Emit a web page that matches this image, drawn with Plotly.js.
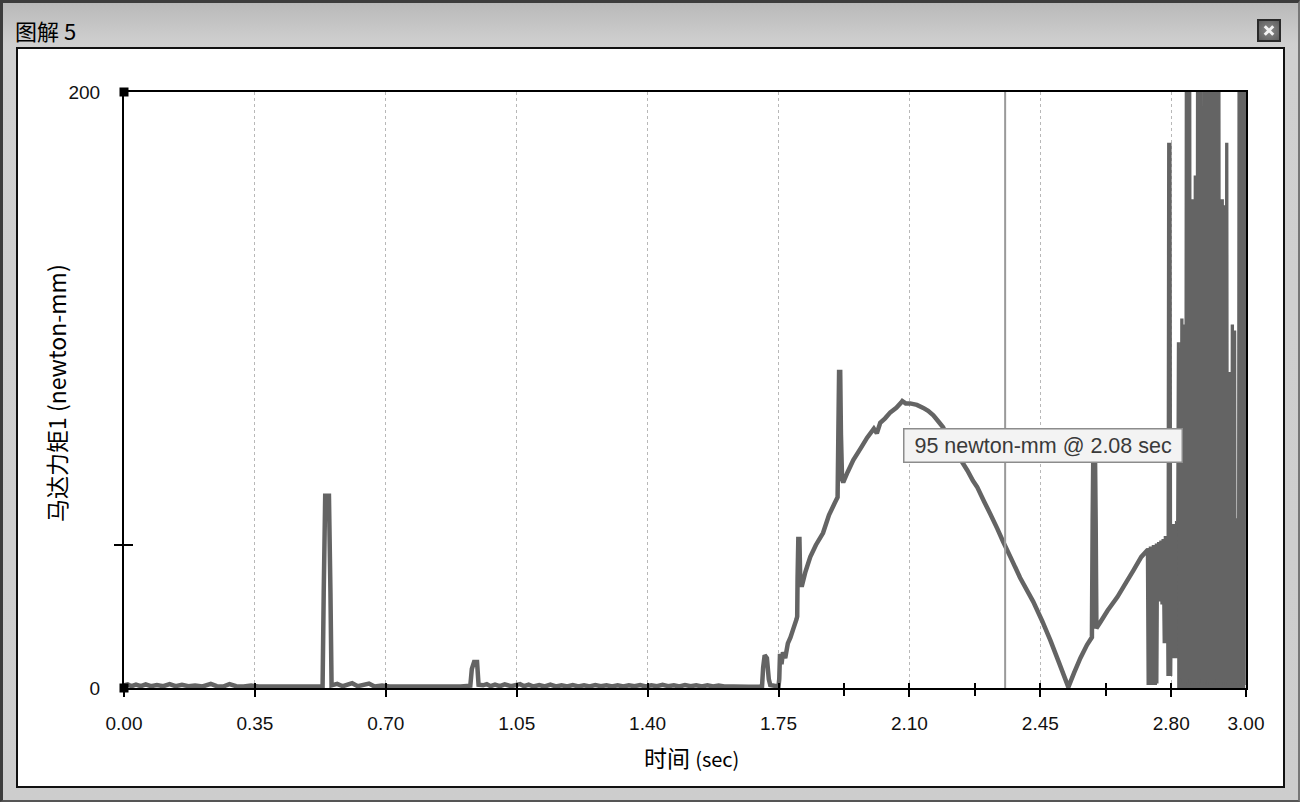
<!DOCTYPE html>
<html>
<head>
<meta charset="utf-8">
<script src="https://cdn.plot.ly/plotly-3.0.1.min.js"></script>
<style>
  html, body { margin:0; padding:0; }
  body { width:1300px; height:802px; position:relative; overflow:hidden; background:#cdcdcd; font-family:"Noto Sans CJK SC","Liberation Sans",sans-serif; }
  #win { position:absolute; left:0; top:0; width:1300px; height:802px; box-sizing:border-box;
         border-top:3px solid #3c3c3c; border-left:3px solid #3c3c3c; border-right:2px solid #777; border-bottom:2px solid #555;
         background:linear-gradient(to bottom,#b9b9b9 0px,#cfcfcf 40px,#d0d0d0 48px,#cdcdcd 100%); }
  #ttl { position:absolute; left:15px; top:16px; font-size:22px; line-height:28px; color:#000; font-family:"Noto Sans CJK SC",sans-serif; }
  #close { position:absolute; left:1257px; top:19px; width:24px; height:23px; box-sizing:border-box; border:2px solid #2a2a2a;
           background:radial-gradient(#8a8a8a,#5e5e5e); }
  #close:before, #close:after { content:""; position:absolute; left:4px; top:8px; width:12px; height:3px; background:#f4f4f4; }
  #close:before { transform:rotate(45deg); }
  #close:after { transform:rotate(-45deg); }
  #panel { position:absolute; left:16px; top:47px; width:1269px; height:741px; box-sizing:border-box; border:2px solid #111; background:#fff; }
  #chart { position:absolute; left:0; top:0; width:1300px; height:802px; }
</style>
</head>
<body>
<div id="win"></div>
<div id="ttl">图解 5</div>
<div id="close"></div>
<div id="panel"></div>
<div id="chart"></div>
<script>
// ---- data ----
const timeMain = [
  0.000,0.010,0.020,0.032,0.045,0.058,0.072,0.088,0.105,0.122,0.138,0.155,0.172,0.190,0.210,0.232,0.248,0.265,0.282,0.300,
  0.320,0.340,0.360,0.390,0.420,0.450,0.480,0.510,0.531,0.534,0.538,0.548,0.552,0.555,0.570,0.585,0.610,0.625,0.655,0.670,
  0.690,0.710,0.740,0.780,0.820,0.860,0.900,0.926,0.930,0.936,0.944,0.948,0.960,0.970,0.980,0.992,1.005,1.018,1.035,1.059,
  1.070,1.082,1.095,1.110,1.125,1.140,1.155,1.170,1.185,1.200,1.215,1.230,1.245,1.260,1.275,1.290,1.305,1.320,1.335,1.350,
  1.365,1.380,1.395,1.410,1.425,1.440,1.455,1.470,1.485,1.500,1.515,1.530,1.545,1.560,1.575,1.590,1.605,1.630,1.670,1.700,
  1.706,1.709,1.713,1.719,1.724,1.728,1.745,1.750,1.752,1.754,1.758,1.762,1.768,1.775,1.782,1.790,1.798,1.800,1.801,1.803,
  1.806,1.808,1.812,1.822,1.835,1.850,1.869,1.885,1.900,1.908,1.910,1.912,1.915,1.917,1.920,1.923,1.935,1.950,1.970,1.987,
  2.005,2.013,2.022,2.035,2.049,2.065,2.078,2.081,2.090,2.102,2.120,2.137,2.150,2.164,2.177,2.190,2.205,2.222,2.240,2.255,
  2.270,2.281,2.300,2.316,2.335,2.351,2.370,2.396,2.431,2.455,2.477,2.500,2.525,2.540,2.557,2.575,2.588,2.590,2.592,2.596,
  2.598,2.600,2.610,2.630,2.656,2.680,2.699,2.720,2.738,2.740,2.742,2.744,2.746,2.748,2.750,2.752,2.754,2.756,2.758,2.760,
  2.762,2.765,2.768,2.771,2.774,2.777,2.780,2.783,2.786,2.789,2.791,2.793,2.795,2.797,2.800,2.802,2.804,2.806,2.808,2.810,
  2.812,2.814,2.816
];
const torqueMain = [
  0.9,1.2,0.6,1.1,0.6,1.2,0.6,1.0,0.6,1.3,0.6,1.1,0.6,0.8,0.5,1.4,0.6,0.5,1.3,0.6,
  0.5,0.8,0.5,0.5,0.5,0.5,0.5,0.5,0.5,32,64.5,64.5,32,0.9,1.4,0.6,1.6,0.6,1.5,0.5,
  0.8,0.5,0.5,0.5,0.5,0.5,0.5,0.8,6.4,8.7,8.7,1.1,0.9,1.3,0.6,1.1,0.6,1.2,0.6,1.3,
  0.6,1.1,0.5,1.0,0.5,1.1,0.5,0.9,0.5,1.0,0.5,0.9,0.5,1.0,0.6,0.9,0.5,0.9,0.5,0.9,
  0.6,1.0,0.5,0.9,0.6,1.1,0.6,0.9,0.5,1.0,0.6,0.9,0.5,0.9,0.5,0.8,0.5,0.5,0.4,0.5,
  0.6,7.0,11.0,10.0,3.0,1.0,0.6,0.5,3.0,11.5,8.0,12.0,10.0,15.0,17.0,20.0,23.0,24.0,37.0,50.0,
  50.0,37.0,34.0,39.0,44.0,48.0,52.0,58.0,62.0,64.0,85.0,106.0,106.0,85.0,70.0,69.0,72.5,76.5,80.5,84.0,
  87.0,85.5,89.0,90.5,92.5,94.0,95.8,96.3,95.5,95.5,95.0,94.0,93.0,91.5,89.5,87.5,83.5,79.5,76.0,73.0,
  69.5,67.5,62.5,58.5,53.5,49.0,44.0,37.0,29.0,22.5,16.0,8.5,0.3,5.0,10.0,14.5,17.0,56.0,82.0,82.0,
  56.0,20.0,22.0,26.0,30.5,35.5,39.5,44.0,46.5,1.0,47.0,1.0,47.5,1.0,47.5,2.0,48.0,1.0,48.0,1.5,
  48.5,29.0,49.0,30.0,49.5,28.0,50.0,15.0,51.0,16.0,51.0,4.0,183.0,4.0,53.0,12.0,53.5,10.0,55.0,12.0,
  55.0,10.0,56.0
];
const timeNoise = [
  2.816,2.818,2.8195,2.821,2.8225,2.824,2.8255,2.827,2.8285,2.830,2.8315,2.833,2.8345,2.836,2.8375,2.839,2.8405,2.842,2.8435,2.845,
  2.8465,2.848,2.8495,2.851,2.8525,2.854,2.8555,2.857,2.8585,2.860,2.8615,2.863,2.8645,2.866,2.8675,2.869,2.8705,2.872,2.8735,2.875,
  2.8765,2.878,2.8795,2.881,2.8825,2.884,2.8855,2.887,2.8885,2.890,2.8915,2.893,2.8945,2.896,2.8975,2.899,2.9005,2.902,2.9035,2.905,
  2.9065,2.908,2.9095,2.911,2.9125,2.914,2.9155,2.917,2.9185,2.920,2.9215,2.923,2.9245,2.926,2.9275,2.929,2.9305,2.932,2.9335,2.935,
  2.9365,2.938,2.9395,2.941,2.9425,2.944,2.9455,2.947,2.9485,2.950,2.9515,2.953,2.9545,2.956,2.9575,2.959,2.9605,2.962,2.9635,2.965,
  2.9665,2.968,2.9695,2.971,2.9725,2.974,2.9755,2.977,2.9785,2.980,2.9815,2.983,2.9845,2.986,2.9875,2.989,2.9905,2.992,2.9935,2.995,
  2.9965,2.998
];
const torqueNoise = [
  56,116,12,114,9,116,4,124,3,124,2,122,2,122,1,200,2,200,1,200,
  3,200,1,200,2,164,3,164,2,160,1,172,2,172,1,200,2,200,1,200,
  2,200,3,200,1,155,2,200,1,200,2,200,3,200,1,200,2,200,1,200,
  2,200,1,200,2,200,1,200,3,200,1,200,2,200,1,200,2,80,1,164,
  2,164,1,162,2,162,1,183,2,183,3,106,2,106,1,104,2,122,1,122,
  2,120,1,120,2,57,2,57,1,200,2,200,1,200,2,200,1,200,2,200,
  1,200
];
const xTickVals = [0.00,0.35,0.70,1.05,1.40,1.75,2.10,2.45,2.80,3.00];
const xTickText = ["0.00","0.35","0.70","1.05","1.40","1.75","2.10","2.45","2.80","3.00"];
const xMinorVals = [1.925,2.275,2.625];
const yTickVals = [0,200];
const yTickText = ["0","200"];
const yMinorVals = [48];
const cornerX = [0,0];
const cornerY = [0,200];
const cursorTime = 2.356;
const tipTime = 2.083, tipValue = 81.5;
const tipText = "95 newton-mm @ 2.08 sec";
const yTitle = "马达力矩1 (newton-mm)";
const xTitleMain = "时间", xTitleUnit = "(sec)";

const lineColor = "#646464";
const traces = [
  {x: timeMain, y: torqueMain, type:"scatter", mode:"lines", line:{color:lineColor, width:4.5, simplify:false}, hoverinfo:"skip", showlegend:false},
  {x: timeNoise, y: torqueNoise, type:"scatter", mode:"lines", fill:"tozeroy", fillcolor:lineColor,
   line:{color:lineColor, width:2.2, simplify:false}, hoverinfo:"skip", showlegend:false},
  {x: cornerX, y: cornerY, xaxis:"x2", yaxis:"y2", type:"scatter", mode:"markers", cliponaxis:false,
   marker:{symbol:"square", size:9, color:"#000"}, hoverinfo:"skip", showlegend:false}
];
const tickFont = {family:"Liberation Sans, Arial, sans-serif", size:19, color:"#111"};
const layout = {
  width:1300, height:802,
  margin:{l:124, r:54, t:92, b:114, pad:0},
  paper_bgcolor:"rgba(0,0,0,0)", plot_bgcolor:"#fff",
  showlegend:false,
  xaxis:{range:[0,3], tickmode:"array", tickvals:xTickVals, ticktext:xTickText, ticks:"outside", ticklen:7, tickwidth:2, tickcolor:"#000",
         showgrid:true, gridcolor:"#b8b8b8", griddash:"dot", gridwidth:1, zeroline:false,
         showline:true, linecolor:"#000", linewidth:2, mirror:true, tickfont:tickFont, ticklabelstandoff:10,
         minor:{tickvals:xMinorVals, ticks:"outside", ticklen:6, tickwidth:2, tickcolor:"#000", showgrid:false}},
  xaxis2:{overlaying:"x", range:[0,3], tickmode:"array", tickvals:xTickVals.concat(xMinorVals), ticks:"inside", ticklen:5, tickwidth:2, tickcolor:"#000",
          showticklabels:false, showgrid:false, zeroline:false, showline:false, anchor:"y2", side:"bottom"},
  yaxis:{range:[0,200], tickmode:"array", tickvals:yTickVals, ticktext:yTickText, ticks:"", showgrid:false, zeroline:false,
         showline:true, linecolor:"#000", linewidth:2, mirror:true, tickfont:tickFont, ticklabelstandoff:18,
         minor:{tickvals:yMinorVals, ticks:"inside", ticklen:9, tickwidth:1.5, tickcolor:"#000", showgrid:false}},
  yaxis2:{overlaying:"y", range:[0,200], tickmode:"array", tickvals:yMinorVals, ticks:"outside", ticklen:9, tickwidth:1.5, tickcolor:"#000",
          showticklabels:false, showgrid:false, zeroline:false, showline:false, anchor:"x2", side:"left"},
  shapes:[
    {type:"line", xref:"x", yref:"paper", x0:cursorTime, x1:cursorTime, y0:0, y1:1, line:{color:"#9a9a9a", width:2}, layer:"above"}
  ],
  annotations:[
    {xref:"x", yref:"y", x:tipTime, y:tipValue, xanchor:"left", yanchor:"middle", showarrow:false, text:"&nbsp;" + tipText + "&nbsp;",
     font:{family:"Liberation Sans, Arial, sans-serif", size:21.5, color:"#3a3a3a"}, bgcolor:"#f3f3f3", bordercolor:"#8c8c8c", borderwidth:1.5, borderpad:4},
    {xref:"paper", yref:"paper", x:-0.0606, y:0.495, xanchor:"center", yanchor:"middle", textangle:-90, showarrow:false, text:yTitle,
     font:{family:"Noto Sans CJK SC, Liberation Sans, sans-serif", size:23, color:"#000"}},
    {xref:"paper", yref:"paper", x:0.5055, y:-0.1158, xanchor:"center", yanchor:"middle", showarrow:false,
     text: xTitleMain + " <span style='font-size:20px'>" + xTitleUnit + "</span>",
     font:{family:"Noto Sans CJK SC, Liberation Sans, sans-serif", size:23, color:"#000"}}
  ]
};
Plotly.newPlot("chart", traces, layout, {staticPlot:true, displayModeBar:false});
</script>
</body>
</html>
